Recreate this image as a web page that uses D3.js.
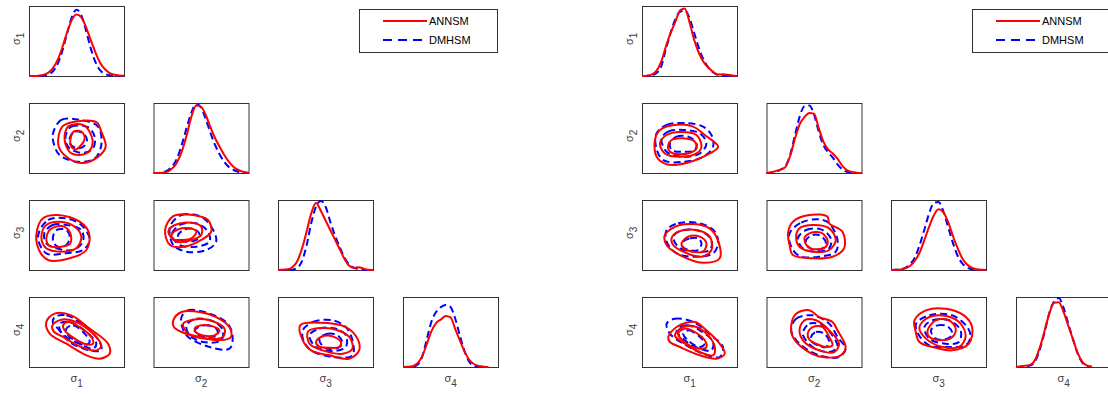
<!DOCTYPE html>
<html>
<head>
<meta charset="utf-8">
<script src="https://cdn.jsdelivr.net/npm/d3@7"></script>
<style>
  body { margin: 0; background: #fff; }
  svg { display: block; font-family: "Liberation Sans", Arial, sans-serif; }
</style>
</head>
<body>
<div id="chart"></div>
<script>
// parameter labels (subscripts)
const paramSubs = ["1", "2", "3", "4"];
const seriesNames = ["ANNSM", "DMHSM"];

// x grid of the 1D densities (fraction of panel width)
const gridX = [0, 0.05, 0.1, 0.15, 0.2, 0.25, 0.3, 0.35, 0.4, 0.45, 0.5,
  0.55, 0.6, 0.65, 0.7, 0.75, 0.8, 0.85, 0.9, 0.95, 1];

// marginal densities, normalised to the panel height, one row per parameter
const leftDensAnn = [
  [0, .001, .005, .016, .045, .11, .23, .41, .63, .81, .89, .85, .71, .52, .34, .19, .097, .043, .017, .006, .002],
  [0, 0, .005, .02, .07, .16, .32, .55, .82, .98, .96, .84, .66, .50, .37, .25, .15, .08, .04, .015, .005],
  [0, .005, .01, .04, .12, .30, .55, .82, .97, .86, .72, .58, .44, .30, .16, .06, .03, .04, .02, .005, 0],
  [0, .002, .01, .05, .15, .33, .52, .64, .69, .74, .72, .55, .38, .22, .10, .04, .015, .005, 0, null, null]
];
const leftDensDm = [
  [0, 0, .001, .005, .02, .065, .17, .36, .61, .85, .96, .88, .66, .40, .20, .08, .03, .01, .003, 0, 0],
  [0, 0, .01, .04, .10, .22, .42, .66, .88, 1.0, .95, .78, .58, .40, .26, .15, .08, .04, .015, .005, 0],
  [0, 0, 0, .005, .03, .12, .35, .68, .92, 1.0, .92, .70, .50, .33, .18, .08, .03, .015, .005, 0, 0],
  [0, 0, .005, .03, .14, .40, .66, .80, .87, .90, .87, .70, .45, .22, .07, .015, 0, null, null, null, null]
];
const rightDensAnn = [
  [0, .005, .02, .07, .20, .42, .62, .78, .95, .98, .78, .52, .33, .20, .12, .06, .02, .025, .02, .008, 0],
  [0, .01, .03, .05, .09, .25, .50, .71, .81, .87, .86, .65, .45, .34, .28, .20, .10, .04, .015, .005, 0],
  [0, .002, .008, .023, .058, .13, .25, .43, .62, .79, .88, .84, .70, .50, .32, .17, .08, .033, .012, .004, .001],
  [0, .01, .02, .03, .10, .28, .52, .77, .93, .94, .80, .60, .40, .20, .07, .02, .005, null, null, null, null]
];
const rightDensDm = [
  [0, 0, .01, .04, .13, .38, .62, .82, .93, .95, .84, .62, .40, .23, .12, .05, .015, .005, 0, 0, 0],
  [0, .005, .02, .05, .10, .27, .55, .82, .97, .98, .85, .60, .40, .30, .22, .12, .05, .015, .005, 0, 0],
  [0, .003, .01, .031, .081, .18, .355, .58, .815, .97, .987, .855, .63, .40, .21, .097, .038, .012, .004, .001, 0],
  [0, .002, .01, .02, .08, .25, .50, .78, .95, 1.0, .86, .63, .40, .19, .06, .015, 0, null, null, null, null]
];

// lower-triangle pairs [row, col] in the order the contour lists use
const pairs = [[1, 0], [2, 0], [2, 1], [3, 0], [3, 1], [3, 2]];

// 2D contours per pair: [outer, middle, inner], points in % of panel (x from left, y from bottom)
const leftContAnn = [
  [[[30.9,39.9],[35.1,66.3],[49.8,73.6],[70.9,72.6],[76.1,59.1],[80.7,37.5],[72.6,23.1],[55.1,14.4],[37.5,25.5]],
   [[37.5,47.1],[41.1,66.3],[56.8,68.8],[64.6,56.7],[66.7,39.9],[60.4,27.9],[44.6,27.9]],
   [[43.5,47.1],[47.0,59.1],[55.1,59.1],[58.6,49.5],[53.3,37.5],[49.1,33.7],[44.2,38.5]]],
  [[[7.7,50],[14.7,73.8],[30.5,78.6],[53.3,69.0],[63.2,52.4],[60.4,28.6],[42.8,16.7],[20.0,14.3],[10.5,28.6]],
   [[13.0,47.6],[18.2,64.3],[32.3,69.0],[48.1,61.9],[55.1,47.6],[49.8,31.0],[34.0,26.2],[18.2,31.0]],
   [[18.2,42.9],[21.8,57.1],[34.0,62.9],[42.8,54.8],[43.5,38.1],[34.0,33.3],[21.8,34.3]]],
  [[[12.2,57.1],[20.8,77.1],[41.7,78.6],[57.3,71.4],[60.8,54.8],[50.3,42.9],[33.0,33.3],[17.4,35.7]],
   [[15.6,54.8],[22.6,64.3],[39.9,67.6],[50.3,61.9],[50.3,50.0],[39.9,42.9],[24.3,40.5]],
   [[19.1,50.0],[26.0,58.1],[38.2,59.5],[45.1,54.8],[39.9,45.2],[29.5,42.9],[20.8,43.8]]],
  [[[18.2,64.3],[27.0,76.2],[44.6,73.8],[63.9,54.8],[83.2,33.3],[84.9,19.0],[74.4,11.9],[60.4,16.7],[39.3,33.3],[21.8,47.6]],
   [[24.6,59.5],[34.0,67.6],[49.8,64.3],[67.4,47.6],[76.1,31.0],[70.9,23.8],[55.1,28.6],[35.8,42.9],[26.0,51.0]],
   [[35.8,59.5],[41.1,64.3],[53.3,57.1],[65.6,42.9],[67.4,33.3],[60.4,32.4],[48.1,40.5],[37.5,52.4]]],
  [[[20.8,66.7],[29.5,78.6],[48.6,78.6],[66.0,71.4],[79.9,57.1],[81.6,42.9],[69.4,38.1],[48.6,42.9],[29.5,50.0],[21.5,57.1]],
   [[31.2,61.9],[41.7,67.6],[59.0,66.7],[74.7,54.8],[73.0,42.9],[55.6,40.5],[36.5,47.6]],
   [[43.4,54.8],[50.3,59.5],[62.5,58.1],[69.4,52.4],[64.2,45.2],[52.1,45.2],[44.4,50.0]]],
  [[[23.3,59.5],[43.6,63.3],[71.4,57.1],[83.6,40.5],[85.4,23.8],[74.9,11.9],[54.0,16.7],[34.8,23.8],[26.1,38.1]],
   [[31.4,50.0],[38.3,54.8],[61.0,53.3],[75.0,42.9],[78.4,26.2],[68.0,19.0],[47.0,23.8],[33.1,33.3]],
   [[40.1,35.7],[45.3,42.9],[57.5,43.8],[66.2,35.7],[64.5,28.6],[52.3,27.6],[43.0,29.5]]]
];
const leftContDm = [
  [[[25.3,56.7],[34.0,76.0],[53.3,76.0],[72.6,66.3],[76.1,39.9],[69.1,20.7],[51.6,15.9],[32.3,25.5],[26.0,42.3]],
   [[39.3,56.7],[44.6,66.3],[62.1,65.4],[69.1,51.9],[67.4,35.1],[56.8,28.8],[42.8,35.1],[38.6,44.7]],
   [[42.8,49.5],[48.1,59.1],[56.8,56.7],[61.1,47.1],[56.1,36.5],[48.1,36.5],[43.5,41.3]]],
  [[[9.5,47.6],[20.0,71.4],[39.3,73.8],[55.1,64.3],[63.9,42.9],[56.8,28.6],[37.5,23.8],[18.2,23.8]],
   [[16.1,52.4],[24.9,64.3],[39.3,64.3],[55.1,57.1],[56.8,40.5],[46.3,28.6],[28.8,31.0],[18.2,38.1]],
   [[25.3,47.6],[28.8,57.1],[39.3,57.1],[42.8,47.6],[39.3,35.7],[30.5,33.3],[26.0,39.0]]],
  [[[17.4,61.9],[29.5,78.6],[48.6,77.1],[60.8,61.9],[66.0,40.5],[55.6,28.6],[34.7,26.2],[20.8,35.7]],
   [[19.1,50.0],[27.8,64.3],[45.1,66.7],[57.3,54.8],[59.0,40.5],[45.1,33.3],[27.8,35.7]],
   [[26.0,50.0],[33.0,58.1],[43.4,58.1],[48.6,50.0],[45.1,42.9],[34.7,40.5],[27.8,43.8]]],
  [[[27.0,71.4],[39.3,73.8],[60.4,57.1],[74.4,35.7],[76.1,23.8],[63.9,23.8],[42.8,35.7],[30.5,54.8],[25.3,61.9]],
   [[32.3,61.9],[42.8,64.3],[60.4,50.0],[70.9,33.3],[67.4,26.2],[53.3,33.3],[39.3,42.9],[33.0,51.4]],
   [[39.3,54.8],[46.3,59.5],[58.6,47.6],[63.9,35.7],[58.6,31.0],[48.1,38.1],[40.7,46.2]]],
  [[[29.5,71.4],[36.5,81.0],[59.0,76.2],[78.1,61.9],[83.3,42.9],[79.9,26.2],[59.0,28.6],[36.5,42.9],[30.2,57.1]],
   [[34.7,59.5],[45.1,69.0],[64.2,64.3],[72.9,52.4],[71.2,38.1],[52.1,35.7],[38.2,45.2]],
   [[43.4,52.4],[53.8,59.5],[66.0,54.8],[67.7,45.2],[57.3,42.9],[46.9,45.2]]],
  [[[26.1,52.4],[36.6,64.3],[57.5,66.7],[71.4,57.1],[78.4,38.1],[78.4,16.7],[57.5,14.3],[34.8,23.8],[26.8,38.1]],
   [[33.1,45.2],[43.6,54.8],[61.0,54.8],[71.4,45.2],[71.4,28.6],[57.5,22.9],[40.1,28.6]],
   [[43.6,40.5],[52.3,47.6],[62.7,45.2],[67.9,33.3],[61.0,26.2],[48.8,27.6]]]
];
const rightContAnn = [
  [[[13.6,47.1],[18.9,61.5],[36.4,68.8],[53.8,66.3],[66.1,54.3],[80.1,37.5],[71.3,27.9],[46.9,14.4],[25.9,12.5],[15.4,23.1]],
   [[18.9,42.3],[25.9,54.3],[39.9,58.7],[57.3,54.3],[62.6,37.5],[57.3,27.9],[39.9,23.1],[24.1,27.9]],
   [[27.6,39.9],[31.1,47.1],[43.4,49.5],[55.6,44.7],[57.3,35.1],[48.6,27.9],[32.9,27.9],[28.0,32.7]]],
  [[[24.1,50.0],[39.9,64.3],[67.8,61.9],[78.3,47.6],[81.8,16.7],[64.3,10.5],[39.9,21.4],[25.9,35.7]],
   [[31.1,45.2],[38.1,54.8],[57.3,57.1],[71.3,47.6],[73.1,28.6],[62.6,19.0],[43.4,26.2],[32.9,35.7]],
   [[41.6,38.1],[48.6,47.6],[60.8,47.6],[67.8,38.1],[64.3,26.2],[53.8,26.2],[43.4,31.0]]],
  [[[22.6,52.4],[27.8,69.0],[45.1,78.6],[64.2,76.2],[66.0,66.7],[79.9,54.8],[81.6,31.0],[69.4,19.0],[48.6,16.7],[27.8,21.4],[24.3,35.7]],
   [[31.2,47.6],[34.7,59.5],[48.6,64.3],[66.0,59.5],[72.9,42.9],[66.0,28.6],[48.6,26.2],[34.7,33.3]],
   [[39.9,45.2],[45.1,52.4],[57.3,53.3],[64.2,42.9],[62.5,33.3],[52.1,29.5],[43.4,33.3]]],
  [[[27.6,42.9],[36.4,57.1],[55.6,64.3],[67.8,52.4],[81.8,33.3],[87.1,19.0],[78.3,11.9],[60.8,16.7],[39.9,28.6],[29.4,35.7]],
   [[34.6,45.2],[43.4,57.1],[57.3,57.1],[69.6,45.2],[76.6,28.6],[74.8,16.7],[60.8,21.4],[45.1,33.3]],
   [[38.1,47.6],[45.1,54.8],[55.6,50.0],[66.1,38.1],[67.8,28.6],[60.8,26.2],[46.9,33.3]]],
  [[[26.0,59.5],[31.2,76.2],[45.1,81.0],[55.6,71.4],[69.4,64.3],[74.7,52.4],[83.3,28.6],[78.1,16.7],[59.0,14.3],[41.7,23.8],[27.8,42.9]],
   [[34.7,52.4],[39.9,66.7],[52.1,66.7],[66.0,52.4],[76.4,33.3],[71.2,21.4],[55.6,23.8],[39.9,35.7]],
   [[43.4,47.6],[48.6,57.1],[59.0,57.1],[66.0,42.9],[69.4,31.0],[62.5,28.6],[52.1,33.3],[45.1,39.0]]],
  [[[24.7,66.7],[36.8,81.0],[57.6,83.3],[76.7,73.8],[85.4,57.1],[81.9,33.3],[64.6,23.8],[43.8,28.6],[29.9,35.7],[25.7,52.4]],
   [[29.9,57.1],[40.3,71.4],[59.4,72.4],[73.3,61.9],[78.5,42.9],[71.5,28.6],[54.2,28.6],[36.8,40.5]],
   [[38.5,52.4],[47.2,66.7],[61.1,66.7],[68.1,54.8],[64.6,42.9],[54.2,38.1],[40.3,42.9]]]
];
const rightContDm = [
  [[[15.4,56.7],[25.9,68.8],[46.9,71.2],[64.3,66.3],[73.1,54.3],[74.8,37.5],[64.3,23.1],[43.4,15.9],[22.4,18.3],[14.7,37.5]],
   [[20.6,49.5],[27.6,59.1],[43.4,61.5],[60.8,56.7],[67.8,42.3],[60.8,27.9],[43.4,23.1],[25.9,30.3]],
   [[29.4,42.3],[36.4,51.9],[48.6,51.9],[57.3,42.3],[55.6,32.7],[43.4,30.3],[31.1,32.7]]],
  [[[25.9,57.1],[38.1,66.7],[60.8,66.7],[76.6,54.8],[80.1,38.1],[74.8,23.8],[57.3,19.0],[36.4,23.8],[25.9,40.5]],
   [[32.9,47.6],[43.4,57.1],[62.6,54.8],[73.1,42.9],[71.3,28.6],[57.3,26.2],[39.9,31.0]],
   [[43.4,40.5],[50.3,45.2],[59.1,45.2],[62.6,38.1],[59.1,28.6],[48.6,28.6],[42.7,33.3]]],
  [[[24.3,52.4],[36.5,67.6],[55.6,72.4],[66.0,66.7],[74.7,42.9],[72.9,26.2],[55.6,19.0],[34.7,20.0],[26.0,33.3]],
   [[33.0,45.2],[41.7,57.1],[57.3,58.1],[67.7,45.2],[66.0,31.0],[52.1,26.2],[38.2,31.0]],
   [[41.7,42.9],[48.6,50.0],[57.3,48.6],[62.5,39.0],[59.0,31.0],[48.6,29.5],[42.4,35.7]]],
  [[[25.9,61.9],[34.6,69.0],[53.8,64.3],[74.8,42.9],[85.3,28.6],[81.8,14.3],[64.3,19.0],[43.4,33.3],[29.4,47.6]],
   [[36.4,52.4],[46.9,59.5],[60.8,52.4],[74.8,35.7],[73.1,23.8],[60.8,26.2],[45.1,38.1]],
   [[43.4,47.6],[48.6,52.4],[59.1,45.2],[66.1,33.3],[60.8,28.6],[50.3,35.7]]],
  [[[26.0,52.4],[31.2,69.0],[48.6,73.8],[66.0,61.9],[74.7,42.9],[83.3,26.2],[76.4,14.3],[55.6,16.7],[34.7,33.3]],
   [[38.2,47.6],[45.1,61.9],[59.0,59.5],[69.4,45.2],[74.7,28.6],[66.0,21.4],[48.6,28.6]],
   [[46.9,42.9],[52.1,50.0],[60.8,47.6],[66.0,35.7],[62.5,28.6],[53.8,31.0],[47.9,35.7]]],
  [[[26.4,61.9],[40.3,73.8],[64.6,73.8],[80.2,57.1],[83.7,42.9],[78.5,31.0],[61.1,28.6],[40.3,31.0],[28.5,47.6]],
   [[35.1,57.1],[43.8,66.7],[61.1,66.7],[73.3,52.4],[71.5,35.7],[57.6,33.3],[40.3,40.5]],
   [[42.0,52.4],[49.0,59.5],[59.4,58.1],[64.6,47.6],[59.4,40.5],[47.2,40.5]]]
];

const W = 1108, H = 394;
const panelW = 95, panelH = 70;
const colX = [29, 153.5, 278, 403];
const rowY = [6, 103, 200, 297];
const RED = "#ff0000", BLUE = "#0000ff";

const svg = d3.select("#chart").append("svg")
  .attr("width", W)
  .attr("height", H);

function drawFigure(offsetX, densAnn, densDm, contAnn, contDm) {
  const fig = svg.append("g").attr("transform", `translate(${offsetX},0)`);

  function panel(r, c) {
    const x0 = colX[c], y0 = rowY[r];
    const g = fig.append("g");
    return { g, x0, y0 };
  }

  function frame(p) {
    p.g.append("rect")
      .attr("x", p.x0 + 0.5).attr("y", p.y0 + 0.5)
      .attr("width", panelW).attr("height", panelH)
      .attr("fill", "none")
      .attr("stroke", "#333")
      .attr("stroke-width", 1);
  }

  // diagonal: 1D densities
  for (let i = 0; i < 4; i++) {
    const p = panel(i, i);
    const x = d3.scaleLinear().domain([0, 1]).range([p.x0, p.x0 + panelW]);
    const y = d3.scaleLinear().domain([0, 1]).range([p.y0 + panelH, p.y0 + 1]);
    const line = d3.line()
      .defined(d => d[1] !== null)
      .x(d => x(d[0])).y(d => y(d[1]))
      .curve(d3.curveMonotoneX);
    frame(p);
    p.g.append("path")
      .datum(gridX.map((gx, k) => [gx, densDm[i][k]]))
      .attr("d", line)
      .attr("fill", "none").attr("stroke", BLUE)
      .attr("stroke-width", 2).attr("stroke-dasharray", "7,4");
    p.g.append("path")
      .datum(gridX.map((gx, k) => [gx, densAnn[i][k]]))
      .attr("d", line)
      .attr("fill", "none").attr("stroke", RED)
      .attr("stroke-width", 2);
  }

  // lower triangle: contours
  pairs.forEach(([r, c], k) => {
    const p = panel(r, c);
    const x = d3.scaleLinear().domain([0, 100]).range([p.x0, p.x0 + panelW]);
    const y = d3.scaleLinear().domain([0, 100]).range([p.y0 + panelH, p.y0]);
    const line = d3.line()
      .x(d => x(d[0])).y(d => y(d[1]))
      .curve(d3.curveCatmullRomClosed.alpha(0.5));
    frame(p);
    p.g.selectAll("path.dm")
      .data(contDm[k])
      .join("path")
      .attr("class", "dm")
      .attr("d", line)
      .attr("fill", "none").attr("stroke", BLUE)
      .attr("stroke-width", 2).attr("stroke-dasharray", "7,4");
    p.g.selectAll("path.ann")
      .data(contAnn[k])
      .join("path")
      .attr("class", "ann")
      .attr("d", line)
      .attr("fill", "none").attr("stroke", RED)
      .attr("stroke-width", 2);
  });

  // y labels (rows) and x labels (columns)
  for (let i = 0; i < 4; i++) {
    const cy = rowY[i] + panelH / 2;
    const t = fig.append("text")
      .attr("transform", `translate(${colX[0] - 9},${cy + 4}) rotate(-90)`)
      .attr("fill", "#404040").attr("font-size", 11);
    t.append("tspan").text("σ");
    t.append("tspan").attr("dy", 4).attr("font-size", 10).text(paramSubs[i]);

    const cx = colX[i] + panelW / 2;
    const tx = fig.append("text")
      .attr("x", cx - 6).attr("y", 382)
      .attr("fill", "#404040").attr("font-size", 11);
    tx.append("tspan").text("σ");
    tx.append("tspan").attr("dy", 5).attr("font-size", 10).text(paramSubs[i]);
  }

  // legend
  const lg = fig.append("g").attr("transform", "translate(359,9)");
  lg.append("rect")
    .attr("x", 0.5).attr("y", 0.5).attr("width", 138).attr("height", 43)
    .attr("fill", "#fff").attr("stroke", "#333").attr("stroke-width", 1);
  seriesNames.forEach((name, k) => {
    const yy = k === 0 ? 12 : 31;
    lg.append("line")
      .attr("x1", 24).attr("x2", k === 0 ? 68 : 63).attr("y1", yy).attr("y2", yy)
      .attr("stroke", k === 0 ? RED : BLUE).attr("stroke-width", 2)
      .attr("stroke-dasharray", k === 0 ? null : "9,6");
    lg.append("text")
      .attr("x", 70).attr("y", yy + 4)
      .attr("fill", "#000").attr("font-size", 11)
      .text(name);
  });
}

drawFigure(0, leftDensAnn, leftDensDm, leftContAnn, leftContDm);
drawFigure(613, rightDensAnn, rightDensDm, rightContAnn, rightContDm);
</script>
</body>
</html>
